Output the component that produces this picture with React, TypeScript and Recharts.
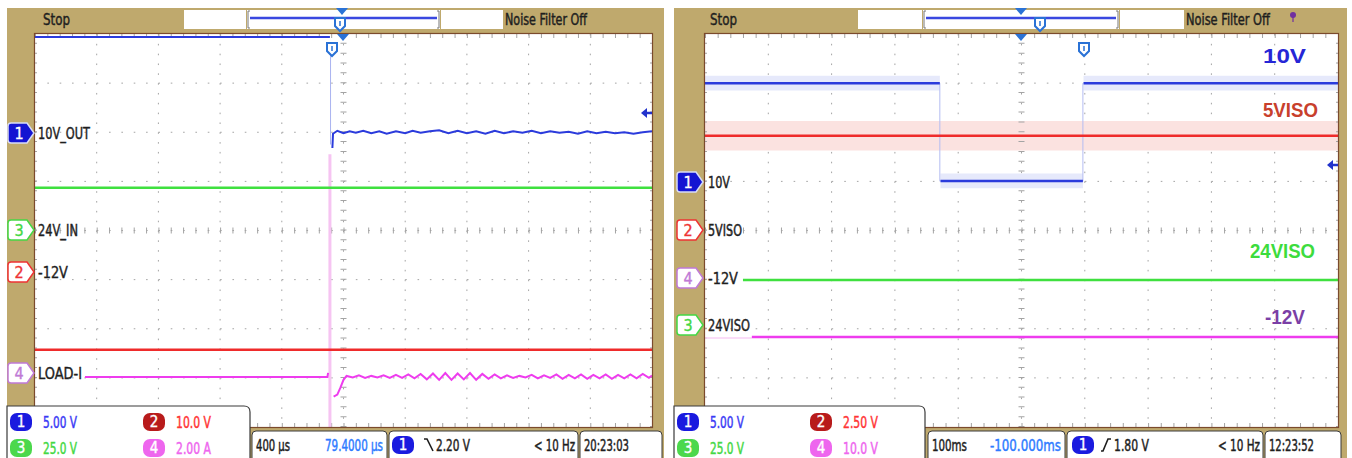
import React, { useLayoutEffect, useRef, useState } from "react";
import { ComposedChart, Line, Area, XAxis, YAxis, CartesianGrid, ReferenceLine } from "recharts";

// values in divisions: t = 0..10 div across, v = 0..8 div up from the bottom

// left capture (400 us/div): 10V output drops when the 24V input goes away
const leftOutHigh = [[0, 7.94], [4.78, 7.94]];
const leftOutEdge = [[4.79, 7.7], [4.79, 5.75]];
const leftOutLow = [
  [4.82, 5.68], [4.83, 5.97], [4.9, 6.03], [5.0, 5.98], [5.1, 6.02], [5.2, 5.99], [5.32, 6.03],
  [5.45, 5.98], [5.58, 6.02], [5.7, 5.97], [5.85, 6.02], [6.0, 5.98], [6.12, 6.03], [6.25, 5.99],
  [6.4, 6.02], [6.55, 6.04], [6.7, 5.98], [6.85, 6.03], [7.0, 5.98], [7.15, 6.02], [7.3, 5.97],
  [7.45, 6.03], [7.6, 5.98], [7.75, 6.02], [7.9, 5.99], [8.05, 6.03], [8.2, 5.98], [8.35, 6.02],
  [8.5, 5.99], [8.65, 6.01], [8.8, 5.97], [8.95, 6.02], [9.1, 5.98], [9.25, 6.01], [9.4, 5.98],
  [9.55, 6.0], [9.7, 5.97], [9.85, 6.0], [10, 6.02],
];
const leftIn24 = [[0, 4.87], [10, 4.87]];
const leftNeg12 = [[0, 1.57], [10, 1.57]];
const leftLoadBefore = [[0.81, 1.02], [4.74, 1.02], [4.75, 1.1]];
const leftLoadSpike = [[4.78, 0], [4.78, 5.55]];
const leftLoadAfter = [
  [4.84, 0.62], [4.9, 0.66], [4.95, 0.8], [5.0, 0.96], [5.05, 1.04], [5.15, 1.01], [5.25, 1.05],
  [5.35, 1.0], [5.45, 1.04], [5.55, 1.01], [5.65, 1.05], [5.75, 1.0], [5.85, 1.06], [5.95, 1.0],
  [6.05, 1.07], [6.15, 0.99], [6.25, 1.08], [6.35, 0.97], [6.45, 1.09], [6.55, 0.96], [6.65, 1.1],
  [6.75, 0.96], [6.85, 1.09], [6.95, 0.97], [7.05, 1.1], [7.15, 0.96], [7.25, 1.08], [7.35, 0.98],
  [7.45, 1.07], [7.55, 0.99], [7.65, 1.05], [7.75, 1.0], [7.85, 1.04], [7.95, 1.01], [8.05, 1.06],
  [8.15, 0.99], [8.25, 1.05], [8.35, 1.0], [8.45, 1.07], [8.55, 0.98], [8.65, 1.06], [8.75, 0.99],
  [8.85, 1.07], [8.95, 0.98], [9.05, 1.06], [9.15, 0.99], [9.25, 1.07], [9.35, 0.98], [9.45, 1.06],
  [9.55, 0.99], [9.65, 1.07], [9.75, 0.99], [9.85, 1.08], [9.95, 1.0], [10, 1.05],
];

// right capture (100 ms/div): 10V output pulses low, isolated rails stay put
const right10v = [[0, 7.0], [3.71, 7.0], [3.715, null], [3.72, 5.01], [5.97, 5.01], [5.975, null], [5.98, 7.0], [10, 7.0]];
const right10vEdge = [[3.71, 7.0], [3.71, 5.0], [3.8, null], [5.97, 5.0], [5.97, 7.0]];
const right10vBand = [[0, 6.85, 7.15], [3.71, 6.85, 7.15], [3.715, null, null], [3.72, 4.86, 5.16], [5.97, 4.86, 5.16], [5.975, null, null], [5.98, 6.85, 7.15], [10, 6.85, 7.15]];
const right5viso = [[0, 5.93], [10, 5.93]];
const right5visoBand = [[0, 5.63, 6.23], [10, 5.63, 6.23]];
const right24viso = [[0.6, 2.99], [10, 2.99]];
const rightNeg12 = [[0.74, 1.83], [10, 1.83]];
const rightNeg12Faint = [[0, 1.81], [0.74, 1.81]];

const GOLD = "#bfa96d";
const GRID = "#a4a4a4";
const BLUE = "#2b3bdc";
const GREEN = "#3fe03f";
const RED = "#ef2b2b";
const MAG = "#ee3cee";
const TRIG = "#2a72d6";
const FONT = "'Liberation Sans Narrow','DejaVu Sans Condensed','Liberation Sans',sans-serif";
const BOLD = "'Liberation Sans',Arial,sans-serif";

const L = { x: 35, y: 34, w: 617, h: 393 };
const R = { x: 705, y: 34, w: 633, h: 393 };

type Series = { rows: (number | null)[][]; color: string; width?: number; band?: boolean };

const leftSeries: Series[] = [
  { rows: leftLoadSpike, color: "#f6c4f2", width: 3 },
  { rows: leftOutEdge, color: "#aab3f0", width: 1 },
  { rows: leftOutHigh, color: BLUE, width: 2 },
  { rows: leftOutLow, color: BLUE, width: 2 },
  { rows: leftIn24, color: GREEN, width: 2.5 },
  { rows: leftNeg12, color: RED, width: 2.5 },
  { rows: leftLoadBefore, color: MAG, width: 2 },
  { rows: leftLoadAfter, color: MAG, width: 2 },
];

const rightSeries: Series[] = [
  { rows: right5visoBand, color: "#fbe2e0", band: true },
  { rows: right10vBand, color: "#e6e9fb", band: true },
  { rows: right10vEdge, color: "#b4bcf2", width: 1 },
  { rows: right10v, color: BLUE, width: 2.5 },
  { rows: right5viso, color: RED, width: 2.5 },
  { rows: right24viso, color: GREEN, width: 2.5 },
  { rows: rightNeg12Faint, color: "#f8d0f6", width: 1.5 },
  { rows: rightNeg12, color: MAG, width: 2.5 },
];

const toPts = (rows: (number | null)[][]) => rows.map(([t, v]) => ({ t, v }));
const toBand = (rows: (number | null)[][]) =>
  rows.map(([t, lo, hi]) => ({ t, band: lo == null ? null : [lo, hi] }));

function panel(box: typeof L, series: Series[]) {
  const mx = box.w / 50;
  const my = box.h / 40;
  return (
    <div style={{ position: "absolute", left: box.x, top: box.y }}>
      <ComposedChart width={box.w} height={box.h} margin={{ top: 0, right: 0, bottom: 0, left: 0 }}>
        <XAxis type="number" dataKey="t" domain={[0, 10]} hide allowDataOverflow />
        <YAxis type="number" domain={[0, 8]} hide allowDataOverflow />
        <CartesianGrid vertical={false} horizontalValues={[1, 2, 3, 4, 5, 6, 7]} stroke={GRID} strokeDasharray={`1.6 ${mx - 1.6}`} />
        <CartesianGrid horizontal={false} verticalValues={[1, 2, 3, 4, 5, 6, 7, 8, 9]} stroke={GRID} strokeDasharray={`1.6 ${my - 1.6}`} />
        <ReferenceLine y={4} stroke={GRID} strokeWidth={6} strokeDasharray={`1 ${mx - 1}`} />
        <ReferenceLine x={5} stroke={GRID} strokeWidth={6} strokeDasharray={`1 ${my - 1}`} />
        <ReferenceLine y={8} stroke={GRID} strokeWidth={8} strokeDasharray={`1 ${mx - 1}`} />
        <ReferenceLine y={0} stroke={GRID} strokeWidth={8} strokeDasharray={`1 ${mx - 1}`} />
        <ReferenceLine x={0} stroke={GRID} strokeWidth={4} strokeDasharray={`1 ${my - 1}`} />
        <ReferenceLine x={10} stroke={GRID} strokeWidth={4} strokeDasharray={`1 ${my - 1}`} />
        {series.map((s, i) =>
          s.band ? (
            <Area key={i} data={toBand(s.rows)} dataKey="band" type="linear" stroke="none" fill={s.color}
              fillOpacity={1} dot={false} activeDot={false} connectNulls={false} isAnimationActive={false} />
          ) : (
            <Line key={i} data={toPts(s.rows)} dataKey="v" type="linear" stroke={s.color} strokeWidth={s.width}
              dot={false} activeDot={false} connectNulls={false} isAnimationActive={false} />
          )
        )}
      </ComposedChart>
    </div>
  );
}

// text squeezed to the width it has on the scope screen (scaled, so its box really is that wide)
function Txt(p: { x: number; y: number; w?: number; s?: number; c?: string; a?: "start" | "middle" | "end"; b?: boolean; children: React.ReactNode }) {
  const { x, y, w, s = 16, c = "#1e1e1e", a = "start", b = false, children } = p;
  const ref = useRef<SVGTextElement>(null);
  const [k, setK] = useState(1);
  useLayoutEffect(() => {
    if (!w || !ref.current) return;
    const natural = ref.current.getComputedTextLength();
    if (natural > 0) setK(w / natural);
  }, [w]);
  return (
    <g transform={`translate(${x},${y + s * 0.36}) scale(${k},1)`}>
      <text ref={ref} x={0} y={0} fontSize={s} fill={c} textAnchor={a} fontFamily={b ? BOLD : FONT}
        fontWeight={b ? 700 : 400} stroke={b ? "none" : c} strokeWidth={0.35 / k}>
        {children}
      </text>
    </g>
  );
}

function Marker({ x, y, n, color, filled }: { x: number; y: number; n: string; color: string; filled?: boolean }) {
  const d = `M${x + 3},${y - 10} H${x + 19} L${x + 26},${y} L${x + 19},${y + 10} H${x + 3} Q${x},${y + 10} ${x},${y + 7} V${y - 7} Q${x},${y - 10} ${x + 3},${y - 10} Z`;
  return (
    <g>
      <path d={d} fill={filled ? color : "#fff"} stroke={filled ? "#d8dcf6" : color} strokeWidth={1.5} />
      <Txt x={x + 11} y={y} a="middle" s={16} c={filled ? "#fff" : color}>{n}</Txt>
    </g>
  );
}

function Badge({ x, y, n, fill }: { x: number; y: number; n: string; fill: string }) {
  return (
    <g>
      <rect x={x} y={y - 9} width={22} height={18} rx={7} fill={fill} />
      <Txt x={x + 11} y={y} a="middle" s={15} c="#fff">{n}</Txt>
    </g>
  );
}

const Tri = ({ x, y }: { x: number; y: number }) => <path d={`M${x - 6},${y} H${x + 6} L${x},${y + 7} Z`} fill={TRIG} />;
const TrigU = ({ x, y }: { x: number; y: number }) => (
  <g>
    <path d={`M${x - 5},${y} H${x + 5} V${y + 8} L${x},${y + 13} L${x - 5},${y + 8} Z`} fill="#fff" stroke={TRIG} strokeWidth={2} />
    <path d={`M${x},${y + 3} V${y + 8}`} stroke={TRIG} strokeWidth={1.5} />
  </g>
);
const Arrow = ({ x, y }: { x: number; y: number }) => (
  <g>
    <path d={`M${x},${y} L${x + 6},${y - 5} V${y + 5} Z`} fill="#2233cc" />
    <path d={`M${x + 5},${y} H${x + 11}`} stroke="#2233cc" strokeWidth={2.5} />
  </g>
);

function TopBar({ ox, box1, bar, box2, tri, u }: { ox: number; box1: number; bar: [number, number]; box2: number; tri: number; u: number }) {
  return (
    <g>
      <Txt x={ox + 36} y={20} w={27} s={15}>Stop</Txt>
      <rect x={box1} y={10} width={bar[0] - box1 - 1} height={19} fill="#fff" />
      <rect x={bar[0]} y={10} width={bar[1] - bar[0]} height={19} fill="#fff" />
      <path d={`M${bar[0] + 3},11 h-2 v17 h2 M${bar[1] - 3},11 h2 v17 h-2`} stroke="#777" fill="none" strokeWidth={1} />
      <path d={`M${bar[0] + 3},18 H${bar[1] - 3}`} stroke="#3a48e0" strokeWidth={2.5} />
      <rect x={bar[1] + 1} y={10} width={box2 - bar[1] - 2} height={19} fill="#fff" />
      <Txt x={box2 + 1} y={20} w={ox === 7 ? 82 : 84} s={15}>Noise Filter Off</Txt>
      <Tri x={tri} y={8} />
      <TrigU x={u} y={18} />
    </g>
  );
}

const SlopeDown = ({ x, y }: { x: number; y: number }) => (
  <path d={`M${x},${y - 6} H${x + 3} L${x + 9},${y + 6}`} stroke="#1e1e1e" strokeWidth={1.6} fill="none" />
);
const SlopeUp = ({ x, y }: { x: number; y: number }) => (
  <path d={`M${x},${y + 6} H${x + 2} L${x + 7},${y - 6} H${x + 10}`} stroke="#1e1e1e" strokeWidth={1.6} fill="none" />
);

function Legend({ x0, right, vals }: { x0: number; right: number; vals: string[] }) {
  return (
    <g>
      <path d={`M${x0},406 H${right - 6} Q${right},406 ${right},412 V460 H${x0} Z`} fill="#fff" stroke="#3a3a3a" strokeWidth={1.2} />
      <Badge x={x0 + 3} y={422} n="1" fill="#1a1adf" />
      <Txt x={x0 + 36} y={422} w={34} c="#3b3bf5">{vals[0]}</Txt>
      <Badge x={x0 + 136} y={422} n="2" fill="#b81b1b" />
      <Txt x={x0 + 169} y={422} w={35} c="#ff3535">{vals[1]}</Txt>
      <Badge x={x0 + 3} y={448} n="3" fill="#4cd84c" />
      <Txt x={x0 + 36} y={448} w={34} c="#44d844">{vals[2]}</Txt>
      <Badge x={x0 + 136} y={448} n="4" fill="#ee66ee" />
      <Txt x={x0 + 169} y={448} w={35} c="#ee66ee">{vals[3]}</Txt>
    </g>
  );
}

export default function App() {
  return (
    <div style={{ position: "absolute", left: 0, top: 0, width: 1352, height: 458, background: "#fff", overflow: "hidden" }}>
      <svg width={1352} height={458} style={{ position: "absolute", left: 0, top: 0 }}>
        <rect x={7} y={8} width={657} height={452} fill={GOLD} />
        <rect x={674} y={8} width={673} height={452} fill={GOLD} />
        <rect x={L.x} y={L.y} width={L.w} height={L.h} fill="#fff" />
        <rect x={R.x} y={R.y} width={R.w} height={R.h} fill="#fff" />
      </svg>
      {panel(L, leftSeries)}
      {panel(R, rightSeries)}
      <svg width={1352} height={458} style={{ position: "absolute", left: 0, top: 0, pointerEvents: "none" }}>
        <rect x={L.x - 0.5} y={L.y - 0.5} width={L.w + 1} height={L.h + 1} fill="none" stroke="#7b4a2c" strokeWidth={1.2} />
        <rect x={R.x - 0.5} y={R.y - 0.5} width={R.w + 1} height={R.h + 1} fill="none" stroke="#7b4a2c" strokeWidth={1.2} />

        {/* left capture */}
        <TopBar ox={7} box1={184} bar={[247, 440]} box2={504} tri={342} u={340} />
        <Tri x={343} y={34} />
        <TrigU x={332} y={43} />
        <Arrow x={641} y={113} />
        <Marker x={8} y={133} n="1" color="#1414d2" filled />
        <Txt x={38} y={133} w={52}>10V_OUT</Txt>
        <Marker x={8} y={230} n="3" color="#44d844" />
        <Txt x={38} y={230} w={40}>24V_IN</Txt>
        <Marker x={8} y={272} n="2" color="#ee3333" />
        <Txt x={38} y={272} w={30}>-12V</Txt>
        <Marker x={8} y={373} n="4" color="#c07ad6" />
        <Txt x={38} y={373} w={44}>LOAD-I</Txt>
        <Legend x0={7} right={250} vals={["5.00 V", "10.0 V", "25.0 V", "2.00 A"]} />
        <rect x={252} y={431} width={135} height={32} rx={4} fill="#fff" stroke="#3a3a3a" />
        <rect x={389} y={431} width={189} height={32} rx={4} fill="#fff" stroke="#3a3a3a" />
        <rect x={580} y={431} width={82} height={32} rx={4} fill="#fff" stroke="#3a3a3a" />
        <Txt x={256} y={445} w={34}>400 µs</Txt>
        <Txt x={325} y={445} w={58} c="#2e7bff">79.4000 µs</Txt>
        <Badge x={392} y={445} n="1" fill="#1a1adf" />
        <SlopeDown x={424} y={445} />
        <Txt x={436} y={445} w={34}>2.20 V</Txt>
        <Txt x={534} y={445} w={41}>{"< 10 Hz"}</Txt>
        <Txt x={584} y={445} w={45}>20:23:03</Txt>

        {/* right capture */}
        <TopBar ox={674} box1={858} bar={[923, 1119]} box2={1185} tri={1021} u={1040} />
        <path d="M1293,16 V22" stroke="#7030a0" strokeWidth={1.2} />
        <circle cx={1293} cy={15} r={3} fill="#7030a0" />
        <Tri x={1021} y={34} />
        <TrigU x={1084} y={43} />
        <Arrow x={1327} y={165} />
        <Txt x={1263} y={56} w={43} s={20} b c="#2626d6">10V</Txt>
        <Txt x={1263} y={110} w={55} s={20} b c="#c8402c">5VISO</Txt>
        <Txt x={1250} y={251} w={65} s={20} b c="#3ddc3d">24VISO</Txt>
        <Txt x={1265} y={317} w={40} s={20} b c="#7b3fa6">-12V</Txt>
        <Marker x={677} y={182} n="1" color="#1414d2" filled />
        <Txt x={708} y={182} w={22}>10V</Txt>
        <Marker x={677} y={230} n="2" color="#ee3333" />
        <Txt x={708} y={230} w={34}>5VISO</Txt>
        <Marker x={677} y={278} n="4" color="#c07ad6" />
        <Txt x={708} y={278} w={30}>-12V</Txt>
        <Marker x={677} y={325} n="3" color="#44d844" />
        <Txt x={708} y={325} w={42}>24VISO</Txt>
        <Legend x0={674} right={925} vals={["5.00 V", "2.50 V", "25.0 V", "10.0 V"]} />
        <rect x={928} y={431} width={137} height={32} rx={4} fill="#fff" stroke="#3a3a3a" />
        <rect x={1067} y={431} width={196} height={32} rx={4} fill="#fff" stroke="#3a3a3a" />
        <rect x={1265} y={431} width={76} height={32} rx={4} fill="#fff" stroke="#3a3a3a" />
        <Txt x={932} y={445} w={35}>100ms</Txt>
        <Txt x={990} y={445} w={71} c="#2e7bff">-100.000ms</Txt>
        <Badge x={1072} y={445} n="1" fill="#1a1adf" />
        <SlopeUp x={1101} y={445} />
        <Txt x={1114} y={445} w={35}>1.80 V</Txt>
        <Txt x={1218} y={445} w={42}>{"< 10 Hz"}</Txt>
        <Txt x={1269} y={445} w={45}>12:23:52</Txt>
      </svg>
    </div>
  );
}
